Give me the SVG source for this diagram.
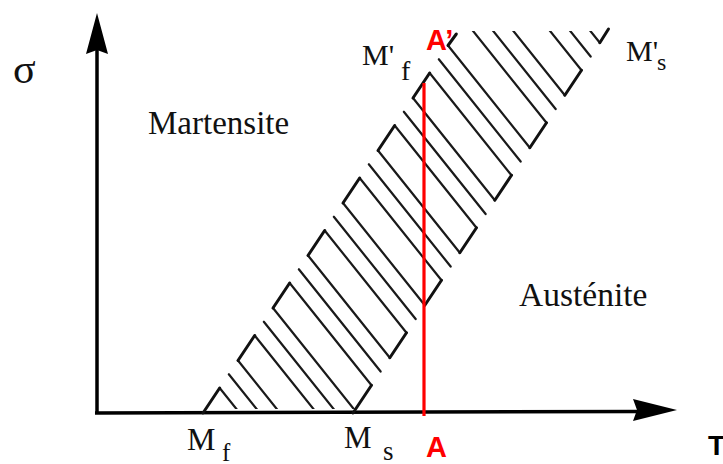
<svg xmlns="http://www.w3.org/2000/svg" width="723" height="464" viewBox="0 0 723 464">
<defs>
<style>
.lbl{font-family:"Liberation Serif","Times New Roman",serif;fill:#111}
.red{font-family:"Liberation Sans",Arial,sans-serif;font-weight:bold;fill:#ff0000;font-size:29px}
.hatch line{stroke:#1a1a1a;stroke-width:2.2;stroke-linecap:round}
.edge line{stroke:#111;stroke-width:3;stroke-linecap:round}
.axis{stroke:#000;stroke-width:3.5;fill:none}
</style>
<clipPath id="band"><rect x="0" y="31" width="723" height="378"/></clipPath>
</defs>
<rect width="723" height="464" fill="#fff"/>

<g id="axes">
<line class="axis" x1="97" y1="413" x2="97" y2="50"/>
<polygon points="97,13 108,54 97,50 86,54" fill="#000"/>
<line class="axis" x1="95" y1="413" x2="640" y2="411.5"/>
<polygon points="677,410 633,421 637,410 633,399" fill="#000"/>
</g>

<g id="hatched-band">
<g class="hatch" clip-path="url(#band)">
<line x1="219.67" y1="388" x2="301.49" y2="490.27"/>
<line x1="254.67" y1="335.5" x2="336.49" y2="437.77"/>
<line x1="238" y1="360.5" x2="319.82" y2="462.77"/>
<line x1="228.83" y1="374.25" x2="310.65" y2="476.52"/>
<line x1="289.67" y1="283" x2="371.49" y2="385.27"/>
<line x1="273" y1="308" x2="354.82" y2="410.27"/>
<line x1="263.83" y1="321.75" x2="345.65" y2="424.02"/>
<line x1="324.67" y1="230.5" x2="406.49" y2="332.77"/>
<line x1="308" y1="255.5" x2="389.82" y2="357.77"/>
<line x1="298.83" y1="269.25" x2="380.65" y2="371.52"/>
<line x1="359.67" y1="178" x2="441.49" y2="280.27"/>
<line x1="343" y1="203" x2="424.82" y2="305.27"/>
<line x1="333.83" y1="216.75" x2="415.65" y2="319.02"/>
<line x1="394.67" y1="125.5" x2="476.49" y2="227.77"/>
<line x1="378" y1="150.5" x2="459.82" y2="252.77"/>
<line x1="368.83" y1="164.25" x2="450.65" y2="266.52"/>
<line x1="429.67" y1="73" x2="511.49" y2="175.27"/>
<line x1="413" y1="98" x2="494.82" y2="200.27"/>
<line x1="403.83" y1="111.75" x2="485.65" y2="214.02"/>
<line x1="464.67" y1="20.5" x2="546.49" y2="122.77"/>
<line x1="448" y1="45.5" x2="529.82" y2="147.77"/>
<line x1="438.83" y1="59.25" x2="520.65" y2="161.52"/>
<line x1="499.67" y1="-32" x2="581.49" y2="70.27"/>
<line x1="483" y1="-7" x2="564.82" y2="95.27"/>
<line x1="473.83" y1="6.75" x2="555.65" y2="109.02"/>
<line x1="518" y1="-59.5" x2="599.82" y2="42.77"/>
<line x1="508.83" y1="-45.75" x2="590.65" y2="56.52"/>
</g>
<g class="edge">
<line x1="219.67" y1="388" x2="203" y2="413"/>
<line x1="254.67" y1="335.5" x2="238" y2="360.5"/>
<line x1="289.67" y1="283" x2="273" y2="308"/>
<line x1="324.67" y1="230.5" x2="308" y2="255.5"/>
<line x1="359.67" y1="178" x2="343" y2="203"/>
<line x1="394.67" y1="125.5" x2="378" y2="150.5"/>
<line x1="429.67" y1="73" x2="413" y2="98"/>
<line x1="456.33" y1="34" x2="448" y2="45.5"/>
<line x1="371.49" y1="385.27" x2="353" y2="413"/>
<line x1="406.49" y1="332.77" x2="389.82" y2="357.77"/>
<line x1="441.49" y1="280.27" x2="424.82" y2="305.27"/>
<line x1="476.49" y1="227.77" x2="459.82" y2="252.77"/>
<line x1="511.49" y1="175.27" x2="494.82" y2="200.27"/>
<line x1="546.49" y1="122.77" x2="529.82" y2="147.77"/>
<line x1="581.49" y1="70.27" x2="564.82" y2="95.27"/>
<line x1="608.5" y1="29" x2="599.82" y2="42.77"/>
</g>
</g>

<g id="red-line">
<line x1="424" y1="83" x2="424" y2="416" stroke="#ff0000" stroke-width="3.2"/>
</g>

<g id="labels">
<text class="lbl" x="13" y="83" font-size="42">σ</text>
<text class="lbl" x="148" y="134" font-size="33">Martensite</text>
<text class="lbl" x="519" y="306" font-size="33.5">Austénite</text>
<text class="lbl" x="362" y="65" font-size="30">M'</text>
<text class="lbl" x="401" y="80" font-size="28">f</text>
<text class="lbl" x="626" y="61" font-size="30">M'</text>
<text class="lbl" x="657" y="70" font-size="24">s</text>
<text class="lbl" x="187" y="450" font-size="32">M</text>
<text class="lbl" x="222" y="461" font-size="25">f</text>
<text class="lbl" x="344" y="448" font-size="31">M</text>
<text class="lbl" x="383" y="460" font-size="27">s</text>
</g>

<g id="point-labels">
<text class="red" x="426" y="50">A’</text>
<text class="red" x="426" y="457">A</text>
<text x="708" y="455" font-family="Liberation Sans,Arial,sans-serif" font-weight="bold" font-size="28" fill="#000">T</text>
</g>
</svg>
